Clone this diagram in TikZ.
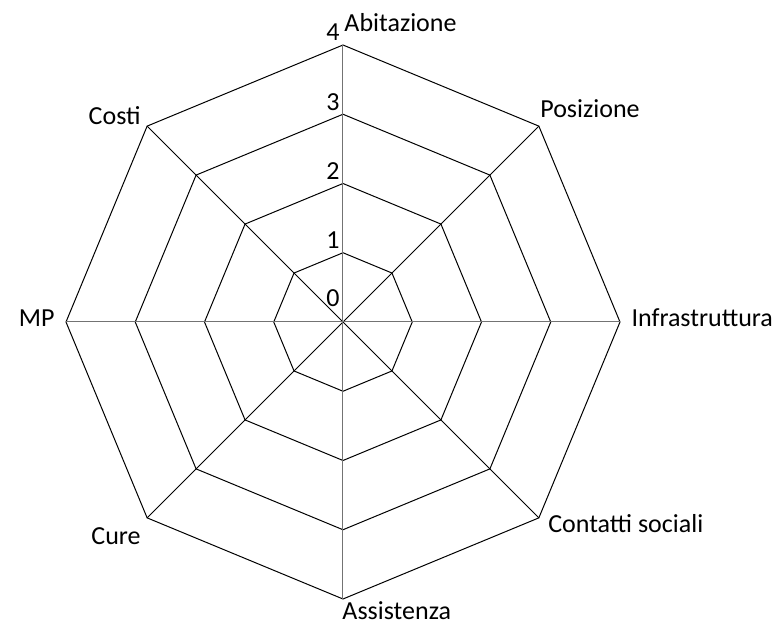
\documentclass[tikz,border=0pt]{standalone}
\usepackage{fontspec}
\setmainfont{Carlito}
\usetikzlibrary{calc}

\begin{document}
\begin{tikzpicture}[x=69.25pt, y=69.25pt, line width=1pt,
		every node/.style={font=\fontsize{26}{31}\selectfont, inner sep=0pt},
		ring/.style={draw=black, line join=miter},
		spoke/.style={draw=black},
		axisline/.style={draw=black!55}]
			\useasboundingbox (-343pt, -309pt) rectangle (431pt, 322pt);
			\coordinate (O) at (0, 0);
			
			\foreach \r in {1,...,4} {
				\foreach \k in {0,...,7}
					\coordinate (v\r-\k) at ({90-45*\k}:\r);
				\draw[ring] (v\r-0) -- (v\r-1) -- (v\r-2) -- (v\r-3) -- (v\r-4) -- (v\r-5) -- (v\r-6) -- (v\r-7) -- cycle;
			}
			
			\foreach \k in {1, 3, 5, 7}
				\draw[spoke] (O) -- (v4-\k);
			\draw[axisline] (v4-0) -- (v4-4);
			\draw[axisline] (v4-6) -- (v4-2);
			
			\node[anchor=base east, yshift=15pt, xshift=-3pt] (t0) at (O) {0};
			\foreach \r in {1,...,4}
				\node[anchor=base east, yshift=4pt, xshift=-3pt] (t\r) at (v\r-0) {\r};
			
			\node[anchor=base west, xshift=1pt, yshift=13pt] (abitazione) at (v4-0) {Abitazione};
			\node[anchor=base west, xshift=1pt, yshift=9pt] (posizione) at (v4-1) {Posizione};
			\node[anchor=base west, xshift=11pt, yshift=-5pt] (infrastruttura) at (v4-2) {Infrastruttura};
			\node[anchor=base west, xshift=9pt, yshift=-15pt] (contatti) at (v4-3) {Contatti sociali};
			\node[anchor=base west, xshift=-1pt, yshift=-21pt] (assistenza) at (v4-4) {Assistenza};
			\node[anchor=base east, xshift=-6pt, yshift=-27pt] (cure) at (v4-5) {Cure};
			\node[anchor=base east, xshift=-11pt, yshift=-5pt] (mp) at (v4-6) {MP};
			\node[anchor=base east, xshift=-6pt, yshift=2pt] (costi) at (v4-7) {Costi};
			
		\end{tikzpicture}
\end{document}
